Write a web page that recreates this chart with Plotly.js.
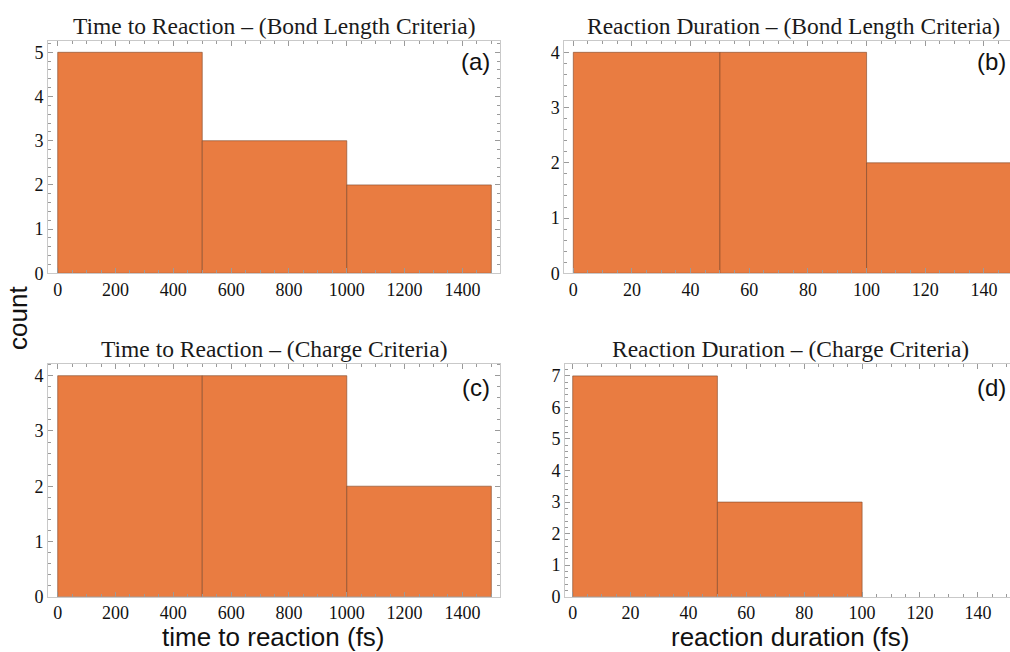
<!DOCTYPE html>
<html>
<head>
<meta charset="utf-8">
<script src="https://cdn.plot.ly/plotly-3.0.1.min.js"></script>
<style>html,body{margin:0;padding:0;background:#fff;}#chart{width:1010px;height:652px;}</style>
</head>
<body>
<div id="chart"></div>
<script>
// ---- data ----
const binEdgesTime = [0, 500, 1000, 1500];
const binEdgesDur = [0, 50, 100, 150];
const binEdgesDurD = [0, 50, 100];
const countsA = [5, 3, 2];      // Time to Reaction – Bond Length
const countsB = [4, 4, 2];      // Reaction Duration – Bond Length
const countsC = [4, 4, 2];      // Time to Reaction – Charge
const countsD = [7, 3];         // Reaction Duration – Charge
const titles = [
  "Time to Reaction \u2013 (Bond Length Criteria)",
  "Reaction Duration \u2013 (Bond Length Criteria)",
  "Time to Reaction \u2013 (Charge Criteria)",
  "Reaction Duration \u2013 (Charge Criteria)"
];
const panelLabels = ["(a)", "(b)", "(c)", "(d)"];
const xLabels = ["time to reaction (fs)", "reaction duration (fs)"];
const yLabel = "count";

const W = 1010, H = 652;
const px = v => v / W;
const py = v => 1 - v / H;

function centers(edges) { const c = []; for (let i = 0; i < edges.length - 1; i++) c.push((edges[i] + edges[i+1]) / 2); return c; }
function widths(edges) { const w = []; for (let i = 0; i < edges.length - 1; i++) w.push(edges[i+1] - edges[i]); return w; }

const barColor = '#E97C41';
const edgeColor = 'rgba(125,70,40,0.6)';

function barTrace(edges, counts, xa, ya) {
  return {
    type: 'bar', x: centers(edges), y: counts, width: widths(edges),
    xaxis: xa, yaxis: ya,
    marker: { color: barColor, line: { color: edgeColor, width: 1 } },
    hoverinfo: 'skip', showlegend: false
  };
}

const data = [
  barTrace(binEdgesTime, countsA, 'x', 'y'),
  barTrace(binEdgesDur, countsB, 'x2', 'y2'),
  barTrace(binEdgesTime, countsC, 'x3', 'y3'),
  barTrace(binEdgesDurD, countsD, 'x4', 'y4')
];

const SERIF = '"Liberation Serif", "Times New Roman", serif';
const SANS = '"Liberation Sans", Arial, sans-serif';
const tickFont = () => ({ family: SERIF, size: 18, color: '#111' });
const frameColor = '#c9c9c9';
const tickColor = '#9a9a9a';

function xaxis(domain, range, dtick, minorDtick, anchor) {
  return {
    domain: domain, range: range, anchor: anchor, dtick: dtick, tick0: 0,
    ticks: 'inside', ticklen: 5, tickwidth: 1, tickcolor: tickColor,
    minor: { dtick: minorDtick, tick0: 0, ticks: 'inside', ticklen: 3, tickcolor: tickColor, showgrid: false },
    showline: true, linecolor: frameColor, linewidth: 1, mirror: 'ticks',
    showgrid: false, zeroline: false, tickfont: tickFont(), fixedrange: true
  };
}
function yaxis(domain, range, anchor, mirror) {
  return {
    domain: domain, range: range, anchor: anchor, dtick: 1, tick0: 0,
    ticks: 'inside', ticklen: 5, tickwidth: 1, tickcolor: tickColor,
    minor: { dtick: 0.2, tick0: 0, ticks: 'inside', ticklen: 3, tickcolor: tickColor, showgrid: false },
    showline: true, linecolor: frameColor, linewidth: 1, mirror: mirror,
    showgrid: false, zeroline: false, tickfont: tickFont(), fixedrange: true
  };
}

const xDomLeft = [px(48), px(500)];
const xDomB = [px(564.3), 1];
const xDomD = [px(565), 1];
const yDomTop = [py(273.3), py(41)];
const yDomBot = [py(596.7), py(363.6)];

const titleFont = { family: SERIF, size: 23.5, color: '#1a1a1a' };
const panelFont = { family: SANS, size: 24, color: '#111' };
const labelFont = { family: SANS, size: 26, color: '#111' };

function ann(text, x, y, font, xanchor, extra) {
  return Object.assign({ text: text, x: px(x), y: py(y), xref: 'paper', yref: 'paper',
    xanchor: xanchor, yanchor: 'middle', showarrow: false, font: font }, extra || {});
}

const layout = {
  width: W, height: H,
  margin: { l: 0, r: 0, t: 0, b: 0 },
  paper_bgcolor: '#fff', plot_bgcolor: '#fff',
  bargap: 0, showlegend: false,
  xaxis: xaxis(xDomLeft, [-33.6, 1530], 200, 50, 'y'),
  yaxis: yaxis(yDomTop, [0, 5.256], 'x', 'ticks'),
  xaxis2: xaxis(xDomB, [-3.07, 148.9], 20, 5, 'y2'),
  yaxis2: yaxis(yDomTop, [0, 4.205], 'x2', false),
  xaxis3: xaxis(xDomLeft, [-33.6, 1530], 200, 50, 'y3'),
  yaxis3: yaxis(yDomBot, [0, 4.219], 'x3', 'ticks'),
  xaxis4: xaxis(xDomD, [-2.66, 151.1], 20, 5, 'y4'),
  yaxis4: yaxis(yDomBot, [0, 7.39], 'x4', false),
  annotations: [
    ann(titles[0], 274, 26, titleFont, 'center'),
    ann(titles[1], 793, 26, titleFont, 'center'),
    ann(titles[2], 274, 349, titleFont, 'center'),
    ann(titles[3], 790, 349, titleFont, 'center'),
    ann(panelLabels[0], 492, 61, panelFont, 'right'),
    ann(panelLabels[1], 1008, 61, panelFont, 'right'),
    ann(panelLabels[2], 492, 387, panelFont, 'right'),
    ann(panelLabels[3], 1008, 387, panelFont, 'right'),
    ann(xLabels[0], 273, 637, labelFont, 'center'),
    ann(xLabels[1], 790, 637, labelFont, 'center'),
    ann(yLabel, 18, 318, labelFont, 'center', { textangle: -90 })
  ]
};

Plotly.newPlot('chart', data, layout, { staticPlot: true, displayModeBar: false });
</script>
</body>
</html>
